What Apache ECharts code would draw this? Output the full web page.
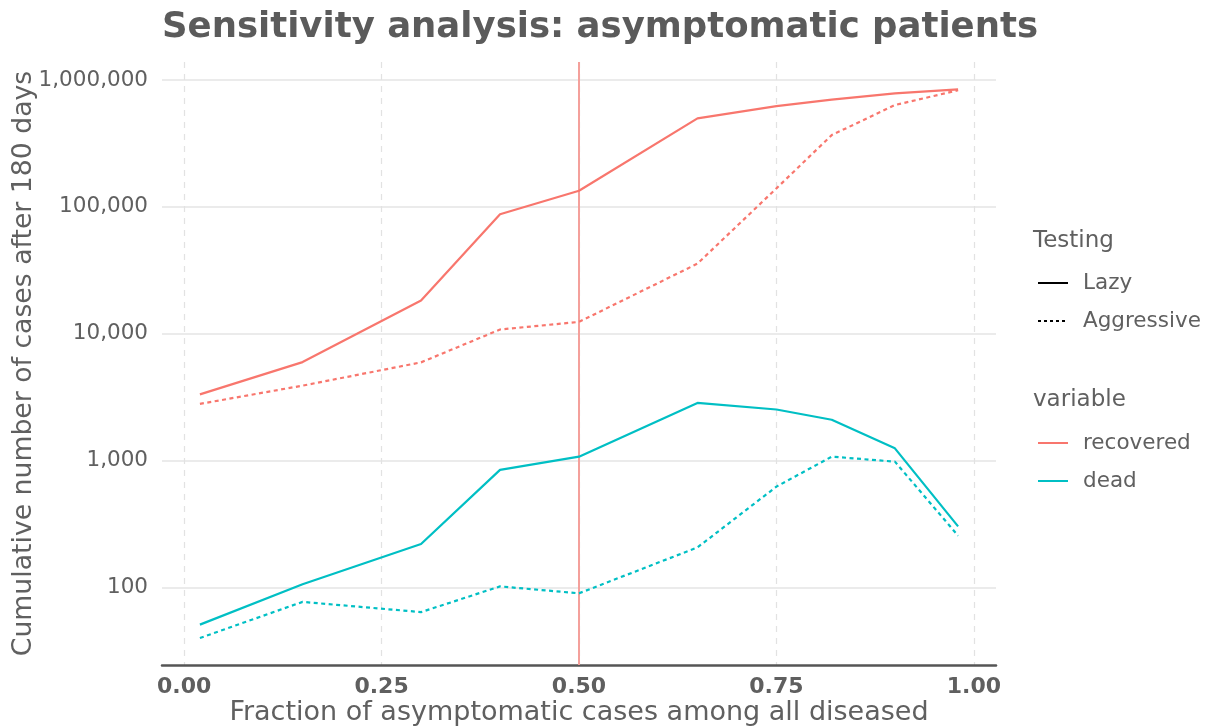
<!DOCTYPE html>
<html>
<head>
<meta charset="utf-8">
<script src="https://cdn.jsdelivr.net/npm/echarts@6/dist/echarts.min.js"></script>
<style>
html,body{margin:0;padding:0;background:#fff;}
#chart{width:1205px;height:728px;}
</style>
</head>
<body>
<div id="chart"></div>
<script>
// ---- data ----
const fraction = [0.02, 0.15, 0.30, 0.40, 0.50, 0.65, 0.75, 0.82, 0.90, 0.98];
const recoveredLazy = [3330, 5980, 18300, 87500, 134000, 499000, 623000, 700000, 785000, 844000];
const recoveredAggressive = [2800, 3900, 5950, 10800, 12400, 35700, 140000, 368000, 635000, 830000];
const deadLazy = [51, 106, 220, 845, 1075, 2850, 2530, 2100, 1250, 303];
const deadAggressive = [40, 77, 64, 102, 90, 207, 624, 1075, 982, 256];
const referenceLine = 0.5;
const xTickLabels = ['0.00', '0.25', '0.50', '0.75', '1.00'];
const testingLevels = ['Lazy', 'Aggressive'];
const variableLevels = ['recovered', 'dead'];

const FONT = 'DejaVu Sans';
const RED = '#F8766D';
const CYAN = '#00BFC4';
const TXT = '#606060';

function pairs(xs, ys) { return xs.map((x, i) => [x, ys[i]]); }

function lineSeries(name, ys, color, dashed) {
  return {
    name: name,
    type: 'line',
    data: pairs(fraction, ys),
    symbol: 'none',
    smooth: false,
    lineStyle: { color: color, width: 2.2, type: dashed ? [4, 3.5] : 'solid' },
    itemStyle: { color: color },
    z: 3
  };
}

const series = [
  lineSeries('recovered', recoveredLazy, RED, false),
  lineSeries('recovered (Aggressive)', recoveredAggressive, RED, true),
  lineSeries('dead', deadLazy, CYAN, false),
  lineSeries('dead (Aggressive)', deadAggressive, CYAN, true),
  // legend-only keys for the linetype scale
  { name: testingLevels[0], type: 'line', data: [], symbol: 'none',
    lineStyle: { color: '#000', width: 2, type: 'solid' }, itemStyle: { color: '#000' } },
  { name: testingLevels[1], type: 'line', data: [], symbol: 'none',
    lineStyle: { color: '#000', width: 2, type: [3, 3] }, itemStyle: { color: '#000' } }
];
// vertical reference line
series[0].markLine = {
  silent: true,
  symbol: 'none',
  label: { show: false },
  lineStyle: { color: '#F4A09B', width: 2, type: 'solid' },
  data: [{ xAxis: referenceLine }],
  z: 2
};

const legendCommon = {
  orient: 'vertical',
  left: 1037,
  itemWidth: 30,
  itemHeight: 14,
  itemGap: 16,
  selectedMode: false,
  itemStyle: { opacity: 0, borderWidth: 0 },
  textStyle: { fontFamily: FONT, fontSize: 21.5, color: TXT, lineHeight: 22, padding: [0, 0, 0, 10] },
  padding: 0
};

const option = {
  animation: false,
  backgroundColor: '#fff',
  title: [
    { text: 'Sensitivity analysis: asymptomatic patients', left: 162, top: 8, padding: 0,
      textStyle: { fontFamily: FONT, fontSize: 35.5, fontWeight: 'bold', color: '#5b5b5b', lineHeight: 40 } },
    { text: 'Testing', left: 1033, top: 227, padding: 0,
      textStyle: { fontFamily: FONT, fontSize: 23, fontWeight: 'normal', color: TXT, lineHeight: 28 } },
    { text: 'variable', left: 1033, top: 386, padding: 0,
      textStyle: { fontFamily: FONT, fontSize: 23, fontWeight: 'normal', color: TXT, lineHeight: 28 } }
  ],
  legend: [
    Object.assign({}, legendCommon, { top: 272, data: testingLevels }),
    Object.assign({}, legendCommon, { top: 432, data: variableLevels })
  ],
  grid: { left: 162, right: 209, top: 62, bottom: 63, containLabel: false, outerBoundsMode: 'none' },
  xAxis: {
    type: 'value',
    min: -0.028,
    max: 1.028,
    minInterval: 0.25,
    maxInterval: 0.25,
    name: 'Fraction of asymptomatic cases among all diseased',
    nameLocation: 'middle',
    nameGap: 34,
    nameMoveOverlap: false,
    nameTextStyle: { fontFamily: FONT, fontSize: 27, color: TXT },
    axisLine: { show: true, onZero: false, lineStyle: { color: '#555', width: 2.5 } },
    axisTick: { show: false },
    axisLabel: {
      fontFamily: FONT, fontSize: 22, fontWeight: 'bold', color: '#5f5f5f', margin: 11,
      showMinLabel: false, showMaxLabel: false,
      formatter: function (v) {
        const i = Math.round(v / 0.25);
        return (Math.abs(v - i * 0.25) < 1e-6 && xTickLabels[i] !== undefined) ? xTickLabels[i] : '';
      }
    },
    splitLine: { show: true, showMinLine: false, showMaxLine: false,
      lineStyle: { color: '#e2e2e2', width: 1.2, type: [6, 6] } }
  },
  yAxis: {
    type: 'log',
    logBase: 10,
    min: 24.5,
    max: 1386800,
    name: 'Cumulative number of cases after 180 days',
    nameLocation: 'middle',
    nameGap: 124,
    nameMoveOverlap: false,
    nameTextStyle: { fontFamily: FONT, fontSize: 26.7, color: TXT },
    axisLine: { show: false },
    axisTick: { show: false },
    axisLabel: {
      fontFamily: FONT, fontSize: 21.5, color: TXT, margin: 14,
      showMinLabel: false, showMaxLabel: false,
      formatter: function (v) { return Math.round(v).toLocaleString('en-US'); }
    },
    splitLine: { show: true, showMinLine: false, showMaxLine: false,
      lineStyle: { color: '#e4e4e4', width: 1.5 } },
    minorSplitLine: { show: false }
  },
  series: series
};

const chart = echarts.init(document.getElementById('chart'), null, { renderer: 'canvas' });
chart.setOption(option);
</script>
</body>
</html>
